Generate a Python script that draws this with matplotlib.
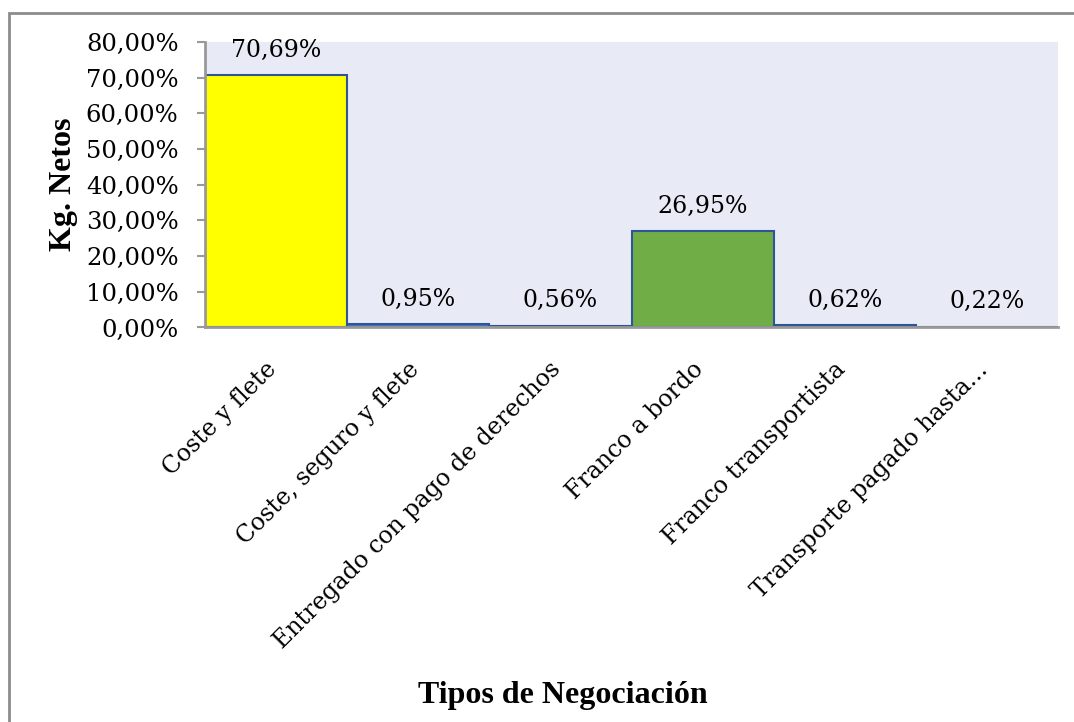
import matplotlib

matplotlib.use("Agg")
import matplotlib.pyplot as plt
from matplotlib.patches import Rectangle
from matplotlib.ticker import FuncFormatter
from matplotlib.transforms import blended_transform_factory

# ---------------------------------------------------------------------------
# Data
# ---------------------------------------------------------------------------
categories = [
    "Coste y flete",
    "Coste, seguro y flete",
    "Entregado con pago de derechos",
    "Franco a bordo",
    "Franco transportista",
    "Transporte pagado hasta...",
]
shares = [70.69, 0.95, 0.56, 26.95, 0.62, 0.22]
value_labels = ["70,69%", "0,95%", "0,56%", "26,95%", "0,62%", "0,22%"]
y_ticks = [0, 10, 20, 30, 40, 50, 60, 70, 80]

# layout
bar_colours = ["#FFFF00", "#4472C4", "#4472C4", "#70AD47", "#4472C4", "#4472C4"]

SERIF = "DejaVu Serif"
BOLD_SERIF = "Liberation Serif"


def pct(v, _pos):
    return f"{v:.2f}".replace(".", ",") + "%"


fig = plt.figure(figsize=(10.74, 7.22), dpi=100)
ax = fig.add_axes([205 / 1074, 1 - 327.5 / 722, 853 / 1074, 285.5 / 722])
ax.set_facecolor("#E8EAF5")

x = list(range(len(categories)))
ax.bar(x, shares, width=1.0, color=bar_colours, edgecolor="#2F5597",
       linewidth=1.5, zorder=2)

for xi, v, txt in zip(x, shares, value_labels):
    ax.annotate(txt, (xi, v), xytext=(0, 18), textcoords="offset points",
                ha="center", va="center", fontsize=17, family=SERIF)

ax.set_xlim(-0.5, len(categories) - 0.5)
ax.set_ylim(0, 80)
ax.set_yticks(y_ticks)
ax.yaxis.set_major_formatter(FuncFormatter(pct))
ax.tick_params(axis="y", length=6, width=1.5, color="#999999",
               labelsize=17.5, pad=13)
for lab in ax.get_yticklabels():
    lab.set_family(SERIF)
ax.set_xticks([])

for side in ("top", "right"):
    ax.spines[side].set_visible(False)
for side in ("left", "bottom"):
    ax.spines[side].set_color("#999999")
    ax.spines[side].set_linewidth(2)

# rotated category labels, right end under each bar centre
trans = blended_transform_factory(ax.transData, ax.transAxes)
for xi, name in zip(x, categories):
    ax.text(xi - 0.02, -0.135, name, transform=trans, rotation=45,
            rotation_mode="anchor", ha="right", va="center",
            fontsize=17, family=SERIF)

ax.set_ylabel("Kg. Netos", fontsize=23, fontweight="bold", family=BOLD_SERIF)
ax.yaxis.set_label_coords((78 - 205) / 853, 0.5)

fig.text(563 / 1074, 1 - 695 / 722, "Tipos de Negociación", ha="center",
         va="center", fontsize=23, fontweight="bold", family=BOLD_SERIF)

# outer chart frame
fig.patches.append(Rectangle((8.5 / 1074, -0.1), 1.2, 1 - 12.5 / 722 + 0.1,
                             transform=fig.transFigure, fill=False,
                             edgecolor="#8C8C8C", linewidth=2))

fig.savefig("out.png", dpi=100)
